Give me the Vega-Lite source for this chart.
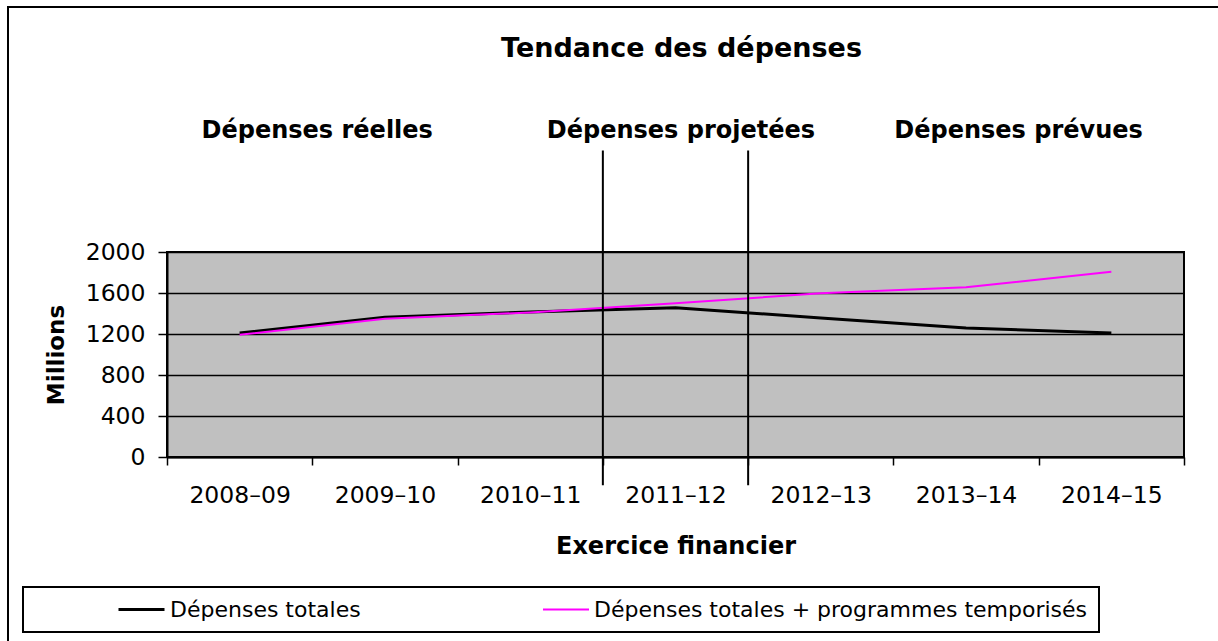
{
  "$schema": "https://vega.github.io/schema/vega-lite/v6.json",
  "width": 1017,
  "height": 205,
  "autosize": {"type": "none"},
  "padding": {"left": 167, "top": 252, "right": 34, "bottom": 184},
  "background": "white",
  "title": {
    "text": "Tendance des dépenses",
    "font": "DejaVu Sans",
    "fontSize": 27,
    "fontWeight": "bold",
    "color": "black",
    "anchor": "middle",
    "dx": 6,
    "offset": -57
  },
  "datasets": {
    "spend": [
      {"year": "2008–09", "series": "Dépenses totales", "value": 1210},
      {"year": "2009–10", "series": "Dépenses totales", "value": 1363},
      {"year": "2010–11", "series": "Dépenses totales", "value": 1415},
      {"year": "2011–12", "series": "Dépenses totales", "value": 1457},
      {"year": "2012–13", "series": "Dépenses totales", "value": 1356},
      {"year": "2013–14", "series": "Dépenses totales", "value": 1258},
      {"year": "2014–15", "series": "Dépenses totales", "value": 1210},
      {"year": "2008–09", "series": "Dépenses totales + programmes temporisés", "value": 1193},
      {"year": "2009–10", "series": "Dépenses totales + programmes temporisés", "value": 1349},
      {"year": "2010–11", "series": "Dépenses totales + programmes temporisés", "value": 1410},
      {"year": "2011–12", "series": "Dépenses totales + programmes temporisés", "value": 1500},
      {"year": "2012–13", "series": "Dépenses totales + programmes temporisés", "value": 1597},
      {"year": "2013–14", "series": "Dépenses totales + programmes temporisés", "value": 1655},
      {"year": "2014–15", "series": "Dépenses totales + programmes temporisés", "value": 1808}
    ],
    "sections": [
      {"section": "Dépenses réelles", "year": "2009–10"},
      {"section": "Dépenses projetées", "year": "2011–12"},
      {"section": "Dépenses prévues", "year": "2013–14"}
    ],
    "dividers": [
      {"year": "2011–12"},
      {"year": "2012–13"}
    ]
  },
  "layer": [
    {
      "data": {"name": "spend"},
      "mark": {"type": "line", "strokeJoin": "round"},
      "encoding": {
        "x": {
          "field": "year",
          "type": "nominal",
          "bandPosition": 0.5,
          "scale": {
            "type": "band",
            "domain": ["2008–09", "2009–10", "2010–11", "2011–12", "2012–13", "2013–14", "2014–15"],
            "paddingInner": 0,
            "paddingOuter": 0
          },
          "axis": {
            "title": "Exercice financier",
            "titleFont": "DejaVu Sans",
            "titleFontSize": 24,
            "titleFontWeight": "bold",
            "titleColor": "black",
            "titleX": 508.5,
            "titleY": 96,
            "titleAlign": "center",
            "titleBaseline": "alphabetic",
            "labelFont": "DejaVu Sans",
            "labelFontSize": 23.5,
            "labelColor": "black",
            "labelAngle": 0,
            "labelPadding": 18,
            "tickBand": "extent",
            "tickSize": 8,
            "tickColor": "black",
            "tickWidth": 1.5,
            "domainColor": "black",
            "domainWidth": 2,
            "grid": false
          }
        },
        "y": {
          "field": "value",
          "type": "quantitative",
          "scale": {"domain": [0, 2000], "nice": false},
          "axis": {
            "title": "Millions",
            "titleFont": "DejaVu Sans",
            "titleFontSize": 23,
            "titleFontWeight": "bold",
            "titleColor": "black",
            "titleAngle": 270,
            "titleX": -104,
            "titleY": 102.5,
            "titleAlign": "center",
            "titleBaseline": "alphabetic",
            "values": [0, 400, 800, 1200, 1600, 2000],
            "format": "d",
            "labelFont": "DejaVu Sans",
            "labelFontSize": 23.5,
            "labelColor": "black",
            "labelPadding": 13,
            "tickSize": 9,
            "tickColor": "black",
            "tickWidth": 1.5,
            "domainColor": "black",
            "domainWidth": 2,
            "grid": true,
            "gridColor": "black",
            "gridWidth": 1.5,
            "gridOpacity": 1
          }
        },
        "color": {
          "field": "series",
          "type": "nominal",
          "scale": {
            "domain": ["Dépenses totales", "Dépenses totales + programmes temporisés"],
            "range": ["#000000", "#FF00FF"]
          },
          "legend": {
            "orient": "none",
            "legendX": -144,
            "legendY": 335,
            "direction": "horizontal",
            "padding": 11,
            "strokeColor": "black",
            "title": " ",
            "titleOrient": "left",
            "titleFontSize": 1,
            "titlePadding": 83,
            "labelFont": "DejaVu Sans",
            "labelFontSize": 22,
            "labelColor": "black",
            "labelOffset": 4,
            "labelLimit": 800,
            "symbolType": "stroke",
            "symbolSize": 2116,
            "clipHeight": 23,
            "columnPadding": 181
          }
        },
        "strokeWidth": {
          "field": "series",
          "type": "nominal",
          "scale": {
            "domain": ["Dépenses totales", "Dépenses totales + programmes temporisés"],
            "range": [3, 2]
          },
          "legend": {
            "orient": "none",
            "legendX": -144,
            "legendY": 335,
            "direction": "horizontal",
            "padding": 11,
            "strokeColor": "black",
            "title": " ",
            "titleOrient": "left",
            "titleFontSize": 1,
            "titlePadding": 83,
            "labelFont": "DejaVu Sans",
            "labelFontSize": 22,
            "labelColor": "black",
            "labelOffset": 4,
            "labelLimit": 800,
            "symbolType": "stroke",
            "symbolSize": 2116,
            "clipHeight": 23,
            "columnPadding": 181
          }
        }
      }
    },
    {
      "data": {"name": "dividers"},
      "mark": {"type": "rule", "color": "black", "strokeWidth": 2},
      "encoding": {
        "x": {"field": "year", "type": "nominal", "bandPosition": 0},
        "y": {"datum": 2990, "type": "quantitative"},
        "y2": {"datum": -275},
        "opacity": {
          "field": "year",
          "type": "ordinal",
          "scale": {"range": [1, 1]},
          "legend": {
            "orient": "none",
            "legendX": -159,
            "legendY": -245,
            "padding": 1400,
            "strokeColor": "black",
            "title": null,
            "labelExpr": "''",
            "labelFontSize": 1,
            "symbolSize": 1,
            "symbolOpacity": 0
          }
        }
      }
    },
    {
      "data": {"name": "sections"},
      "transform": [{"filter": "datum.section === 'Dépenses réelles'"}],
      "mark": {"type": "text", "font": "DejaVu Sans", "fontSize": 24, "fontWeight": "bold", "baseline": "alphabetic", "align": "center", "color": "black"},
      "encoding": {
        "x": {"field": "year", "type": "nominal", "bandPosition": 0.034},
        "y": {"datum": 3112, "type": "quantitative"},
        "text": {"field": "section"}
      }
    },
    {
      "data": {"name": "sections"},
      "transform": [{"filter": "datum.section === 'Dépenses projetées'"}],
      "mark": {"type": "text", "font": "DejaVu Sans", "fontSize": 24, "fontWeight": "bold", "baseline": "alphabetic", "align": "center", "color": "black"},
      "encoding": {
        "x": {"field": "year", "type": "nominal", "bandPosition": 0.537},
        "y": {"datum": 3112, "type": "quantitative"},
        "text": {"field": "section"}
      }
    },
    {
      "data": {"name": "sections"},
      "transform": [{"filter": "datum.section === 'Dépenses prévues'"}],
      "mark": {"type": "text", "font": "DejaVu Sans", "fontSize": 24, "fontWeight": "bold", "baseline": "alphabetic", "align": "center", "color": "black"},
      "encoding": {
        "x": {"field": "year", "type": "nominal", "bandPosition": 0.861},
        "y": {"datum": 3112, "type": "quantitative"},
        "text": {"field": "section"}
      }
    }
  ],
  "config": {
    "view": {"fill": "#C0C0C0", "stroke": "black", "strokeWidth": 2},
    "legend": {"strokeWidth": 2}
  }
}
